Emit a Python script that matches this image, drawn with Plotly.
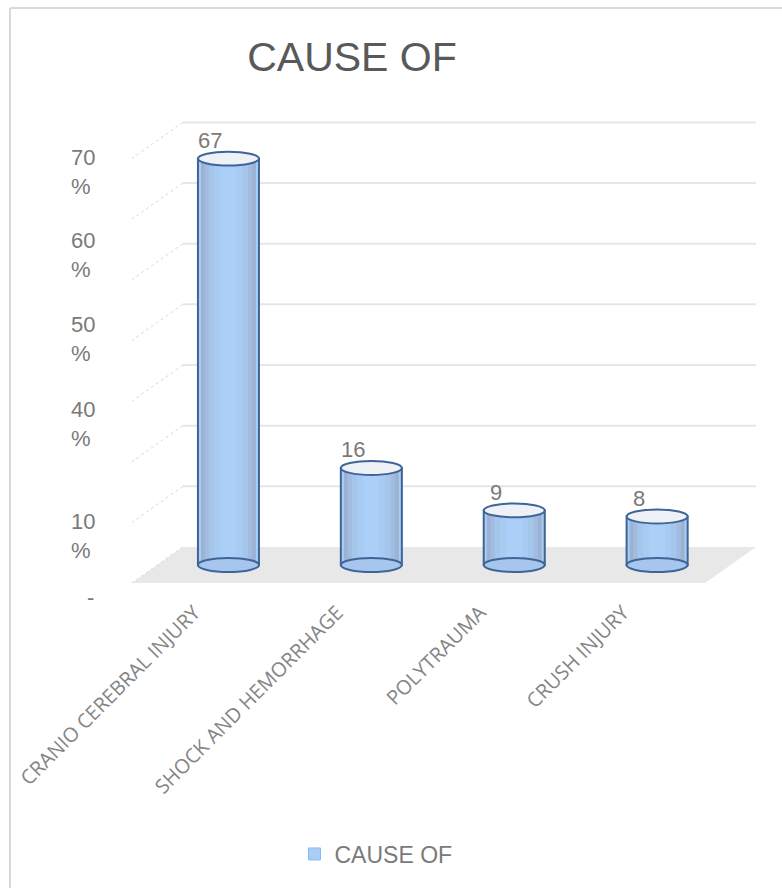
import plotly.graph_objects as go

# ---- data ----
categories = ["CRANIO CEREBRAL INJURY", "SHOCK AND HEMORRHAGE", "POLYTRAUMA", "CRUSH INJURY"]
values = [67, 16, 9, 8]
series_name = "CAUSE OF"
title_text = "CAUSE OF"
grid_values = [10, 20, 30, 40, 50, 60, 70]
ytick_labels = ["70<br>%", "60<br>%", "50<br>%", "40<br>%", "10<br>%", "-"]

# ---- layout constants ----
W, H = 782, 888
ML, MR, MT, MB = 132, 26, 121, 305
XL, XR = -0.497, 3.514     # floor extent in mid-depth plane
DX, DY = 0.178, 2.97       # half depth offsets (x units, y units)
YR = [-DY, 73.2]
XRNG = [XL - DX, XR + DX]
BW = 0.427                 # bar width (x units)
EH = 1.15                  # half ellipse height (y units)

PW = W - ML - MR
PH = H - MT - MB

def px_to_paper_x(px):
    return (px - ML) / PW

def px_to_paper_y(py):
    return (H - MB - py) / PH

xs = list(range(len(categories)))

fig = go.Figure()

# outer body (also the legend entry)
fig.add_trace(go.Bar(
    x=xs, y=values, width=[BW] * len(xs),
    marker=dict(color="#a9cdf5", line=dict(width=1, color="#8db9ea")),
    name=series_name, showlegend=True, hoverinfo="skip",
))
# cylinder body shading layers (outer -> inner)
layers = [(0.9, "#9cb2d1"), (0.78, "#a1bce0"), (0.64, "#a5c5eb"), (0.46, "#a8cbf2"), (0.26, "#abcff6")]
for frac, col in layers:
    fig.add_trace(go.Bar(
        x=xs, y=values, width=[BW * frac] * len(xs),
        marker=dict(color=col, line=dict(width=0)),
        showlegend=False, hoverinfo="skip",
    ))
# outline
fig.add_trace(go.Bar(
    x=xs, y=values, width=[BW] * len(xs),
    marker=dict(color="rgba(0,0,0,0)", line=dict(width=2, color="#3f6497")),
    showlegend=False, hoverinfo="skip",
))

shapes = []
# floor
shapes.append(dict(
    type="path", xref="x", yref="y", layer="below",
    path=f"M {XL+DX},{DY} L {XR+DX},{DY} L {XR-DX},{-DY} L {XL-DX},{-DY} Z",
    fillcolor="#e8e8e8", line=dict(width=0),
))
# back-wall grid lines and side dotted lines
for v in grid_values:
    shapes.append(dict(type="line", xref="x", yref="y", layer="below",
                       x0=XL + DX, x1=XR + DX, y0=v + DY, y1=v + DY,
                       line=dict(color="#e6e6e6", width=2)))
for v in [0] + grid_values:
    shapes.append(dict(type="line", xref="x", yref="y", layer="below",
                       x0=XL + DX, x1=XL - DX, y0=v + DY, y1=v - DY,
                       line=dict(color="#d9d9d9", width=1, dash="dot")))
# ellipses
for x, v in zip(xs, values):
    shapes.append(dict(type="circle", xref="x", yref="y",
                       x0=x - BW / 2, x1=x + BW / 2, y0=-EH, y1=EH,
                       fillcolor="#a6c6ee", line=dict(color="#3f6497", width=2)))
    shapes.append(dict(type="circle", xref="x", yref="y",
                       x0=x - BW / 2, x1=x + BW / 2, y0=v - EH, y1=v + EH,
                       fillcolor="#eef1f6", line=dict(color="#3f6497", width=2)))
# chart border (left and top visible)
shapes.append(dict(type="line", xref="paper", yref="paper",
                   x0=px_to_paper_x(10), x1=px_to_paper_x(10),
                   y0=px_to_paper_y(8), y1=px_to_paper_y(H + 5),
                   line=dict(color="#d9d9d9", width=2)))
shapes.append(dict(type="line", xref="paper", yref="paper",
                   x0=px_to_paper_x(10), x1=px_to_paper_x(W + 5),
                   y0=px_to_paper_y(8), y1=px_to_paper_y(8),
                   line=dict(color="#d9d9d9", width=2)))

annotations = []
# value labels
for x, v in zip(xs, values):
    annotations.append(dict(x=x, y=v, xref="x", yref="y", text=str(v),
                            showarrow=False, xshift=-18, yshift=18,
                            font=dict(family="Liberation Sans, Arial", size=22, color="#7a7a7a")))
# y tick labels (as rendered in the original)
ytick_px = [171.5, 254.5, 338.5, 423.5, 535.5, 597]
for lab, py in zip(ytick_labels, ytick_px):
    annotations.append(dict(x=px_to_paper_x(69 if lab != "-" else 85), y=px_to_paper_y(py),
                            xref="paper", yref="paper", text=lab, showarrow=False,
                            xanchor="left", yanchor="middle", align="left",
                            font=dict(family="Liberation Sans, Arial", size=22, color="#7a7a7a")))

fig.update_layout(
    width=W, height=H,
    margin=dict(l=ML, r=MR, t=MT, b=MB),
    paper_bgcolor="white", plot_bgcolor="white",
    barmode="overlay",
    title=dict(text=title_text, x=px_to_paper_x(352), xref="paper", xanchor="center",
               y=1 - 57 / H, yref="container", yanchor="middle",
               font=dict(family="Liberation Sans, Arial", size=41, color="#595959")),
    xaxis=dict(range=XRNG, tickvals=xs, ticktext=categories, tickangle=-45,
               showgrid=False, zeroline=False, showline=False, ticks="",
               ticklabelshift=-34, ticklabelstandoff=13,
               tickfont=dict(family="Open Sans", size=20, color="#858585")),
    yaxis=dict(range=YR, showgrid=False, zeroline=False, showline=False,
               showticklabels=False, ticks=""),
    legend=dict(orientation="h", x=px_to_paper_x(376), xanchor="center",
                y=px_to_paper_y(854), yanchor="middle",
                font=dict(family="Liberation Sans, Arial", size=23, color="#7a7a7a"),
                itemwidth=30),
    shapes=shapes,
    annotations=annotations,
)

fig.write_html("out.html")
